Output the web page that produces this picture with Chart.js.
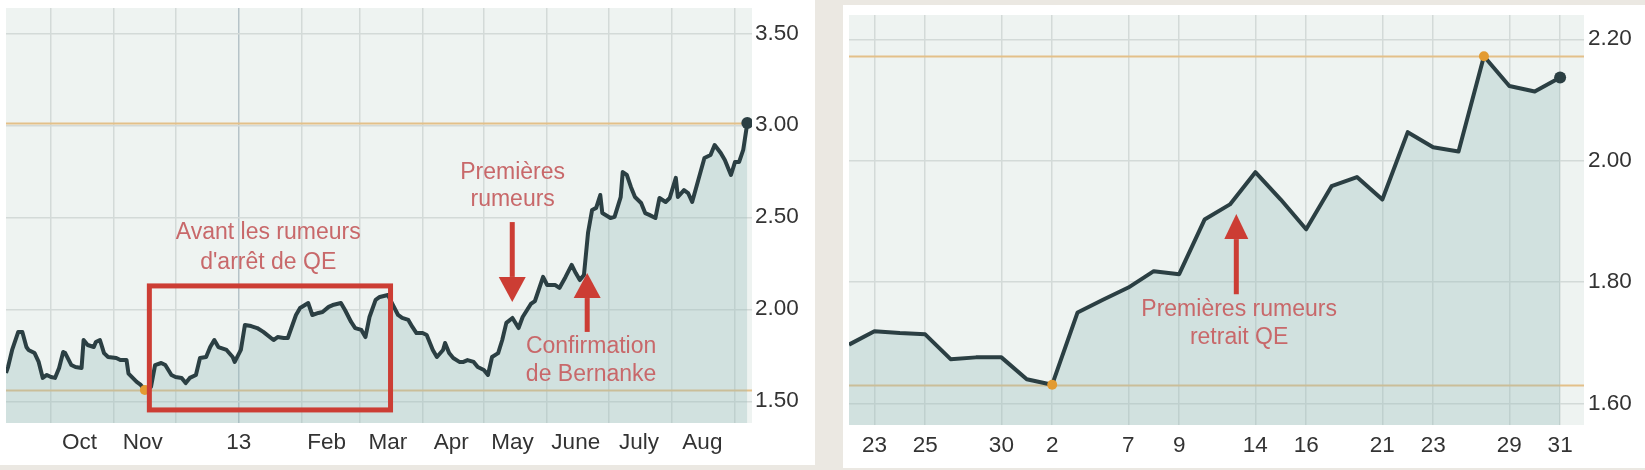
<!DOCTYPE html>
<html>
<head>
<meta charset="utf-8">
<script src="https://cdn.jsdelivr.net/npm/chart.js@4.4.1/dist/chart.umd.min.js"></script>
<style>
  html, body { margin: 0; padding: 0; background: #ebe8e2; }
  body { width: 1645px; height: 470px; position: relative; overflow: hidden; }
  .panel { position: absolute; background: #fff; }
  #p1 { left: 0; top: 0; width: 815px; height: 465px; }
  #p2 { left: 843px; top: 5px; width: 802px; height: 463px; }
  canvas { display: block; }
</style>
</head>
<body>
<div class="panel" id="p1"><canvas id="chart-1" width="815" height="465"></canvas></div>
<div class="panel" id="p2"><canvas id="chart-2" width="802" height="463"></canvas></div>

<script>
// ---------------------------- data : left chart (one year) ----------------------------
// x = days since 1 Sep 2012
const leftDays = [8,9,11,14,16,18,19,22,24,26,28,30,32,34,36,37,40,42,45,46,
  48,51,52,54,56,58,62,64,67,68,72,74,76,79,81,84,86,89,91,94,
  96,98,101,103,106,108,110,112,116,119,120,123,125,128,131,134,139,141,144,146,
  150,152,156,158,161,163,166,168,172,174,177,179,182,184,186,189,191,195,197,200,
  202,205,207,209,212,214,217,219,222,223,225,227,230,232,234,237,239,242,244,246,
  249,251,253,256,259,261,265,267,271,273,277,279,282,285,287,289,291,293,295,297,
  299,300,304,306,309,310,312,314,316,319,321,323,326,328,331,333,336,337,340,342,
  344,347,350,353,355,358,360,363,365,367,369,371];
const leftValues = [1.654,1.686,1.779,1.877,1.877,1.795,1.779,1.762,1.714,1.627,
  1.643,1.632,1.627,1.681,1.768,1.762,1.697,1.686,1.681,1.833,
  1.806,1.795,1.822,1.833,1.762,1.741,1.735,1.724,1.725,1.650,
  1.605,1.589,1.561,1.578,1.697,1.708,1.697,1.643,1.632,1.627,
  1.599,1.627,1.643,1.735,1.741,1.795,1.833,1.795,1.779,1.741,
  1.714,1.779,1.915,1.909,1.898,1.877,1.833,1.849,1.844,1.844,
  1.969,2.007,2.034,1.969,1.980,1.985,2.013,2.023,2.034,1.996,
  1.931,1.898,1.888,1.849,1.958,2.051,2.067,2.078,2.034,1.969,
  1.953,1.942,1.904,1.871,1.871,1.860,1.779,1.741,1.779,1.817,
  1.762,1.735,1.714,1.714,1.724,1.714,1.686,1.670,1.643,1.741,
  1.762,1.833,1.926,1.953,1.898,1.958,2.029,2.045,2.176,2.132,
  2.132,2.116,2.176,2.241,2.197,2.159,2.186,2.415,2.540,2.551,
  2.621,2.523,2.496,2.502,2.610,2.746,2.730,2.665,2.610,2.578,
  2.523,2.513,2.496,2.605,2.583,2.605,2.714,2.610,2.648,2.632,
  2.583,2.703,2.822,2.839,2.893,2.849,2.811,2.730,2.801,2.801,
  2.866,3.012];
const leftGridDays = [30,61,91,122,153,181,212,242,273,303,334,365];   // month starts
const leftLabelDays = [44,75,122,165,195,226,256,287,318,349];
const leftLabels = ['Oct','Nov','13','Feb','Mar','Apr','May','June','July','Aug'];
const leftYTicks = [1.5,2.0,2.5,3.0,3.5];

// ---------------------------- data : right chart (22 Apr - 31 May) --------------------
const rightDates = ['22','23','24','25','26','29','30','1','2','3','6','7','8','9','10',
  '13','14','15','16','17','20','21','22','23','24','28','29','30','31'];
const rightValues = [1.697,1.719,1.716,1.714,1.673,1.676,1.676,1.640,1.631,1.750,
  1.771,1.791,1.818,1.813,1.903,1.928,1.981,1.936,1.887,1.958,
  1.973,1.936,2.047,2.022,2.015,2.172,2.123,2.114,2.137];
const rightTickIdx = [1,3,6,8,11,13,16,18,21,23,26,28];
const rightYTicks = [1.6,1.8,2.0,2.2];

// ---------------------------- styles ----------------------------
const FONT = '"Liberation Sans", Arial, sans-serif';
const LINE = '#2b3f43';
const FILL = 'rgba(150,186,188,0.32)';
const GRID = '#d3dad8';
const ORANGE_LINE = '#e3c089';
const NOTE_TEXT = '#c8686a';
const NOTE_RED = '#cc3d34';

// background of the plot area
const plotBg = {
  id: 'plotBg',
  beforeDraw(chart) {
    const a = chart.chartArea, c = chart.ctx;
    c.save();
    c.fillStyle = '#eef3f1';
    c.fillRect(a.left, a.top, a.right - a.left, a.bottom - a.top);
    c.restore();
  }
};

// orange lines at min and max of the series
const minMaxLines = {
  id: 'minMaxLines',
  beforeDatasetsDraw(chart) {
    const vals = chart.data.datasets[0].data.map(p => p.y);
    const a = chart.chartArea, c = chart.ctx, ys = chart.scales.y;
    c.save();
    c.strokeStyle = ORANGE_LINE;
    c.lineWidth = 2;
    [Math.min(...vals), Math.max(...vals)].forEach(v => {
      const y = Math.round(ys.getPixelForValue(v)) + 0.5;
      c.beginPath(); c.moveTo(a.left, y); c.lineTo(a.right, y); c.stroke();
    });
    c.restore();
  }
};

// annotations: box, arrows, texts (in data coordinates)
function notesPlugin(items) {
  return {
    id: 'notes',
    afterDatasetsDraw(chart) {
      const c = chart.ctx, xs = chart.scales.x, ys = chart.scales.y;
      c.save();
      items.forEach(it => {
        if (it.type === 'box') {
          c.strokeStyle = NOTE_RED;
          c.lineWidth = 5;
          const x1 = xs.getPixelForValue(it.x1), x2 = xs.getPixelForValue(it.x2);
          const y1 = ys.getPixelForValue(it.y1), y2 = ys.getPixelForValue(it.y2);
          c.strokeRect(x1, y1, x2 - x1, y2 - y1);
        } else if (it.type === 'arrow') {
          const x = xs.getPixelForValue(it.x);
          const yt = ys.getPixelForValue(it.tail), yp = ys.getPixelForValue(it.tip);
          const dir = yp > yt ? 1 : -1;
          const head = 25, hw = it.hw || 13.5;
          c.strokeStyle = NOTE_RED; c.fillStyle = NOTE_RED;
          c.lineWidth = 5;
          c.beginPath(); c.moveTo(x, yt); c.lineTo(x, yp - dir * head); c.stroke();
          c.beginPath();
          c.moveTo(x - hw, yp - dir * head);
          c.lineTo(x + hw, yp - dir * head);
          c.lineTo(x, yp);
          c.closePath(); c.fill();
        } else {
          c.fillStyle = NOTE_TEXT;
          c.font = '23px ' + FONT;
          c.textAlign = 'center';
          c.textBaseline = 'middle';
          c.fillText(it.text, xs.getPixelForValue(it.x), ys.getPixelForValue(it.y));
        }
      });
      c.restore();
    }
  };
}

function dotRadius(ctx) {
  const vals = ctx.dataset.data.map(p => p.y);
  const i = ctx.dataIndex, v = vals[i];
  if (i === vals.length - 1) return 6;
  if (v === Math.min(...vals) || v === Math.max(...vals)) return 5;
  return 0;
}
function dotColor(ctx) {
  return ctx.dataIndex === ctx.dataset.data.length - 1 ? LINE : '#e39b32';
}

function lineDataset(xs, vals) {
  return {
    data: xs.map((x, i) => ({ x: x, y: vals[i] })),
    borderColor: LINE,
    borderWidth: 4,
    borderJoinStyle: 'round',
    backgroundColor: FILL,
    fill: 'start',
    tension: 0,
    pointRadius: dotRadius,
    pointHoverRadius: dotRadius,
    pointBackgroundColor: dotColor,
    pointBorderWidth: 0
  };
}

// fixed axis sizes, no extra label padding around the plot
function fixX(h) {
  return axis => { axis.height = h; axis.paddingLeft = 0; axis.paddingRight = 0; };
}
function fixY(w) {
  return axis => { axis.width = w; axis.paddingTop = 0; axis.paddingBottom = 0; };
}

// -----------------------------------------------------------------------------------
// ---------------------------- chart 1 : one year -----------------------------------
// -----------------------------------------------------------------------------------
const leftTicks = [...new Set([...leftGridDays, ...leftLabelDays])].sort((a, b) => a - b);

new Chart(document.getElementById('chart-1'), {
  type: 'line',
  data: { datasets: [lineDataset(leftDays, leftValues)] },
  options: {
    responsive: false,
    animation: false,
    layout: { padding: { left: 5, top: 8, right: 0, bottom: 0 } },
    plugins: { legend: { display: false }, tooltip: { enabled: false } },
    scales: {
      x: {
        type: 'linear',
        min: 8,
        max: 373.3,
        afterBuildTicks: axis => { axis.ticks = leftTicks.map(v => ({ value: v })); },
        afterFit: fixX(42),
        grid: {
          drawTicks: false,
          lineWidth: 1.5,
          color: ctx => {
            if (!ctx.tick || !leftGridDays.includes(ctx.tick.value)) return 'rgba(0,0,0,0)';
            return ctx.tick.value === 122 ? '#b6c3c8' : GRID;
          }
        },
        border: { display: false },
        ticks: {
          autoSkip: false,
          maxRotation: 0,
          padding: 6,
          color: '#333',
          font: { family: FONT, size: 22.5 },
          callback: v => {
            const k = leftLabelDays.indexOf(v);
            return k >= 0 ? leftLabels[k] : '';
          }
        }
      },
      y: {
        position: 'right',
        min: 1.382,
        max: 3.6375,
        afterBuildTicks: axis => { axis.ticks = leftYTicks.map(v => ({ value: v })); },
        afterFit: fixY(63),
        grid: { drawTicks: false, lineWidth: 1.5, color: GRID },
        border: { display: false },
        ticks: {
          padding: 3,
          color: '#333',
          font: { family: FONT, size: 22.5 },
          callback: v => v.toFixed(2)
        }
      }
    }
  },
  plugins: [plotBg, minMaxLines, notesPlugin([
    { type: 'box', x1: 78.2, x2: 196.3, y1: 2.127, y2: 1.453 },
    { type: 'text', text: 'Avant les rumeurs', x: 136.4, y: 2.415 },
    { type: 'text', text: "d'arrêt de QE", x: 136.4, y: 2.252 },
    { type: 'text', text: 'Premières', x: 256.1, y: 2.741 },
    { type: 'text', text: 'rumeurs', x: 256.1, y: 2.594 },
    { type: 'arrow', x: 255.9, tail: 2.474, tip: 2.040 },
    { type: 'arrow', x: 292.6, tail: 1.877, tip: 2.197 },
    { type: 'text', text: 'Confirmation', x: 294.5, y: 1.795 },
    { type: 'text', text: 'de Bernanke', x: 294.5, y: 1.643 }
  ])]
});

// -----------------------------------------------------------------------------------
// ---------------------------- chart 2 : April - May --------------------------------
// -----------------------------------------------------------------------------------
new Chart(document.getElementById('chart-2'), {
  type: 'line',
  data: { datasets: [lineDataset(rightDates.map((d, i) => i), rightValues)] },
  options: {
    responsive: false,
    animation: false,
    layout: { padding: { left: 4, top: 10, right: 0, bottom: 0 } },
    plugins: { legend: { display: false }, tooltip: { enabled: false } },
    scales: {
      x: {
        type: 'linear',
        min: 0,
        max: 28.94,
        afterBuildTicks: axis => { axis.ticks = rightTickIdx.map(v => ({ value: v })); },
        afterFit: fixX(43),
        grid: { drawTicks: false, lineWidth: 1.5, color: GRID },
        border: { display: false },
        ticks: {
          autoSkip: false,
          maxRotation: 0,
          padding: 7,
          color: '#333',
          font: { family: FONT, size: 22.5 },
          callback: v => rightDates[v]
        }
      },
      y: {
        position: 'right',
        min: 1.5646,
        max: 2.240,
        afterBuildTicks: axis => { axis.ticks = rightYTicks.map(v => ({ value: v })); },
        afterFit: fixY(61),
        grid: { drawTicks: false, lineWidth: 1.5, color: GRID },
        border: { display: false },
        ticks: {
          padding: 4,
          color: '#333',
          font: { family: FONT, size: 22.5 },
          callback: v => v.toFixed(2)
        }
      }
    }
  },
  plugins: [plotBg, minMaxLines, notesPlugin([
    { type: 'arrow', x: 15.25, tail: 1.780, tip: 1.912, hw: 12 },
    { type: 'text', text: 'Premières rumeurs', x: 15.36, y: 1.755 },
    { type: 'text', text: 'retrait QE', x: 15.36, y: 1.709 }
  ])]
});
</script>
</body>
</html>
